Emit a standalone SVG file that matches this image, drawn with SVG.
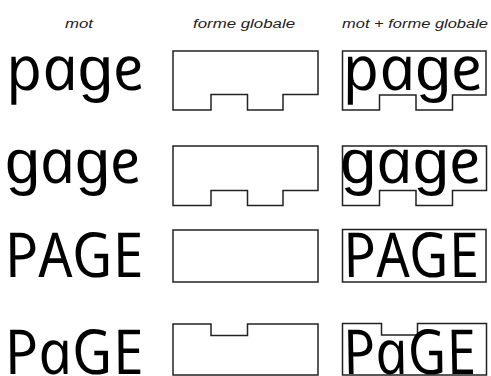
<svg xmlns="http://www.w3.org/2000/svg" width="491" height="376" viewBox="0 0 491 376">
<style>
.lbl{font-family:"Liberation Sans",Arial,sans-serif;font-style:italic;font-size:12px;fill:#222;text-anchor:start}
.w{font-family:"Open Sans",sans-serif;font-style:italic;font-size:62px;fill:#000}
.g{font-family:"Liberation Sans",Arial,sans-serif;font-style:italic}
.sh{fill:none;stroke:#222;stroke-width:1.5;stroke-linejoin:miter}
</style>
<rect width="491" height="376" fill="#fff"/>
<g id="labels">
<text class="lbl" x="65" y="28" textLength="28" lengthAdjust="spacingAndGlyphs">mot</text>
<text class="lbl" x="193" y="28" textLength="102" lengthAdjust="spacingAndGlyphs">forme globale</text>
<text class="lbl" x="342" y="28" textLength="146" lengthAdjust="spacingAndGlyphs">mot + forme globale</text>
</g>
<g id="row-page">
<text class="w" x="9.5" y="90" transform="translate(9.5,90) skewX(12) translate(-9.5,-90)" textLength="138" lengthAdjust="spacingAndGlyphs">pa<tspan class="g">g</tspan>e</text>
<path class="sh" d="M173,51 H318 V94.5 H283 V110 H247.5 V94.5 H211 V110 H173 Z"/>
<path class="sh" d="M342.5,51 H486 V95 H452.5 V110 H416 V95 H379.5 V110 H342.5 Z"/>
<text class="w" x="346" y="90" transform="translate(346,90) skewX(12) translate(-346,-90)" textLength="140" lengthAdjust="spacingAndGlyphs">pa<tspan class="g">g</tspan>e</text>
</g>
<g id="row-gage">
<text class="w" x="8.5" y="183.3" transform="translate(8.5,183.3) skewX(12) translate(-8.5,-183.3)" textLength="136" lengthAdjust="spacingAndGlyphs"><tspan class="g">g</tspan>a<tspan class="g">g</tspan>e</text>
<path class="sh" d="M173,146 H318 V190.5 H283 V205.5 H247.5 V190.5 H211 V205.5 H173 Z"/>
<path class="sh" d="M342.5,146 H486.5 V190.5 H452.5 V205.5 H416 V190.5 H379.5 V205.5 H342.5 Z"/>
<text class="w" x="343.5" y="183.3" transform="translate(343.5,183.3) skewX(12) translate(-343.5,-183.3)" textLength="141" lengthAdjust="spacingAndGlyphs"><tspan class="g">g</tspan>a<tspan class="g">g</tspan>e</text>
</g>
<g id="row-PAGE">
<text class="w" x="8" y="277.3" transform="translate(8,277.3) skewX(12) translate(-8,-277.3)" textLength="139" lengthAdjust="spacingAndGlyphs">PAGE</text>
<rect class="sh" x="173" y="230" width="145" height="52"/>
<rect class="sh" x="342.5" y="229.5" width="143.5" height="52.5"/>
<text class="w" x="346.5" y="277.3" transform="translate(346.5,277.3) skewX(12) translate(-346.5,-277.3)" textLength="136" lengthAdjust="spacingAndGlyphs">PAGE</text>
</g>
<g id="row-PaGE">
<text class="w" x="8" y="374" transform="translate(8,374) skewX(12) translate(-8,-374)" textLength="139" lengthAdjust="spacingAndGlyphs">PaGE</text>
<path class="sh" d="M173,324 H211 V335.5 H247.5 V324 H318 V375 H173 Z"/>
<path class="sh" d="M342.5,323.5 H381.5 V335 H417.5 V323.5 H486.5 V375 H342.5 Z"/>
<text class="w" x="346.5" y="374" transform="translate(346.5,374) skewX(12) translate(-346.5,-374)" textLength="133" lengthAdjust="spacingAndGlyphs">PaGE</text>
</g>
</svg>
